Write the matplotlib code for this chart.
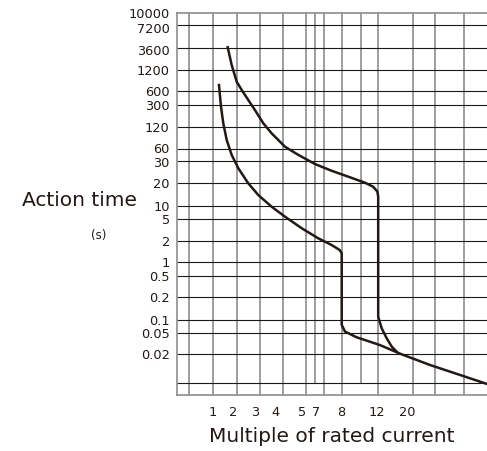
import numpy as np
import matplotlib
matplotlib.use("Agg")
import matplotlib.pyplot as plt
from matplotlib.ticker import FixedLocator, NullLocator
from matplotlib.transforms import ScaledTranslation

# ---- data ----
x_ticks = [1, 2, 3, 4, 5, 7, 8, 12, 20]
y_ticks = [10000, 7200, 3600, 1200, 600, 300, 120, 60, 30, 20, 10, 5, 2, 1,
           0.5, 0.2, 0.1, 0.05, 0.02]
y_labels = ["10000", "7200", "3600", "1200", "600", "300", "120", "60", "30",
            "20", "10", "5", "2", "1", "0.5", "0.2", "0.1", "0.05", "0.02"]

# grid lines of the printed chart
x_grid = [0.5, 1, 2, 3, 4, 5, 7.5, 8, 12, 20, 30, 50]
x_grid_short = [7, 10]
y_grid = [7200, 3600, 1200, 600, 300, 120, 60, 30, 20, 10, 5, 2, 1, 0.5,
          0.2, 0.1, 0.05, 0.02, 0.01]

# lower curve (multiple of rated current, seconds)
lower_i = [1.206, 1.278, 1.366, 1.507, 1.741, 2.063, 2.45, 2.91, 3.48, 4.10,
           4.82, 7.19, 7.71, 7.94, 8.0, 8.0, 8.32, 9.55, 12.3, 17.0, 27.5,
           49.5, 100]
lower_t = [733, 283, 141.7, 80.4, 43.2, 26.4, 20, 14.0, 9.63, 5.65,
           3.40, 2.24, 1.75, 1.48, 1.33, 0.077, 0.054, 0.0416, 0.0298, 0.02,
           0.0155, 0.0119, 0.0096]

# upper curve
upper_i = [1.55, 1.74, 2.007, 2.19, 2.45, 2.75, 3.13, 3.48, 4.10, 4.67, 7.03,
           7.71, 8.65, 10.48, 11.4, 11.9, 12.0, 12.0, 12.65, 13.6, 14.7, 15.8]
upper_t = [3650, 1552, 818, 619, 388, 246, 141.7, 99.3, 65.0, 43.2, 28.5,
           25.2, 22.6, 20.2, 18.0, 15.5, 13.3, 0.110, 0.064, 0.040, 0.0277,
           0.0224]

# ---- the chart's own (irregular) scales ----
xs_val = np.log10([0.1, 0.3, 0.5, 1, 2, 3, 4, 5, 7, 7.5, 8, 10, 12, 20, 30, 50, 100, 1000])
xs_pos = np.array([140, 176.7, 189, 212.5, 236.5, 260, 282.5, 305.5, 314.5, 324,
                   341.7, 360.5, 378.2, 412.5, 434.7, 463.8, 487, 550])
ys_val = np.log10([0.001, 0.005, 0.01, 0.02, 0.05, 0.1, 0.2, 0.5, 1, 2, 5, 10,
                   20, 30, 60, 120, 300, 600, 1200, 3600, 7200, 10000, 100000])
ys_pos = -np.array([420, 395, 383.3, 354.3, 333, 320, 297, 276.3, 261.7, 241,
                    219, 206, 183.3, 161.3, 149.3, 127.3, 105.3, 91, 70.3, 47.7,
                    25, 13.3, 0])


def x_fwd(v):
    return np.interp(np.log10(np.clip(v, 1e-9, None)), xs_val, xs_pos)


def x_inv(p):
    return 10 ** np.interp(p, xs_pos, xs_val)


def y_fwd(v):
    return np.interp(np.log10(np.clip(v, 1e-9, None)), ys_val, ys_pos)


def y_inv(p):
    return 10 ** np.interp(p, ys_pos, ys_val)


W, H = 487, 451
fig = plt.figure(figsize=(W / 100, H / 100), dpi=100)
ax = fig.add_axes([176.7 / W, (H - 395) / H, (W - 176.7) / W, (395 - 13.3) / H])
ax.set_xscale("function", functions=(x_fwd, x_inv))
ax.set_yscale("function", functions=(y_fwd, y_inv))
ax.set_xlim(0.3, 100)
ax.set_ylim(0.005, 10000)

grey = "#8e8e8e"
ink = "#231815"
ax.vlines(x_grid, 0.005, 10000, color=grey, lw=1.2, zorder=1)
ax.vlines(x_grid_short, 0.01, 10000, color=grey, lw=1.2, zorder=1)
ax.hlines(y_grid, 0.3, 100, color="#1a1a1a", lw=0.8, zorder=2)

ax.plot(lower_i, lower_t, color=ink, lw=1.8, zorder=3, solid_joinstyle="round")
ax.plot(upper_i, upper_t, color=ink, lw=1.8, zorder=3, solid_joinstyle="round")

for side in ["left", "top", "bottom"]:
    ax.spines[side].set_color(grey)
    ax.spines[side].set_linewidth(1.2)
ax.spines["right"].set_visible(False)

ax.xaxis.set_major_locator(FixedLocator(x_ticks))
ax.xaxis.set_minor_locator(NullLocator())
ax.set_xticklabels([str(v) for v in x_ticks])
ax.yaxis.set_major_locator(FixedLocator(y_ticks))
ax.yaxis.set_minor_locator(NullLocator())
ax.set_yticklabels(y_labels)
ax.tick_params(axis="both", length=0, labelsize=9.3, colors=ink)
ax.tick_params(axis="x", pad=8)
ax.tick_params(axis="y", pad=5)

# labels in the print sit a little off their grid lines (pixels)
dx = [0, -3.5, -5, -7.5, -3, 2, -1, -1, -5]
for lbl, d in zip(ax.get_xticklabels(), dx):
    lbl.set_transform(lbl.get_transform() + ScaledTranslation(d / 100, 0, fig.dpi_scale_trans))
dy = {"7200": -3.5, "3600": -2, "60": 1.5, "30": -0.5}
for lbl in ax.get_yticklabels():
    d = dy.get(lbl.get_text(), 0)
    if d:
        lbl.set_transform(lbl.get_transform() + ScaledTranslation(0, d / 100, fig.dpi_scale_trans))

ax.set_xlabel("Multiple of rated current", fontsize=14.5, color=ink, labelpad=6)
fig.text(22 / W, 1 - 201 / H, "Action time", fontsize=14.5, color=ink,
         ha="left", va="center")
fig.text(99 / W, 1 - 236 / H, "(s)", fontsize=8.5, color=ink,
         ha="center", va="center")

fig.savefig("out.png", dpi=100)
